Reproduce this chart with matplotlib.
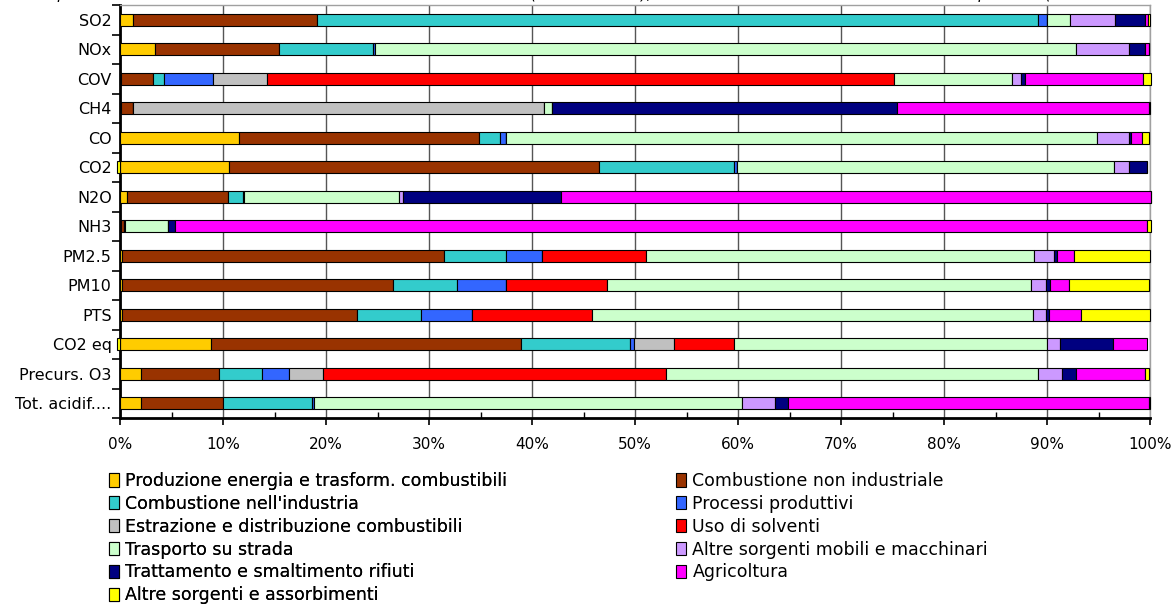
import matplotlib
matplotlib.use("Agg")
import matplotlib.pyplot as plt
import numpy as np
from matplotlib.patches import Patch
from matplotlib.ticker import MultipleLocator, FixedLocator, PercentFormatter

plt.rcParams["font.family"] = ["DejaVu Sans"]

pollutants = ["SO2", "NOx", "COV", "CH4", "CO", "CO2", "N2O", "NH3",
              "PM2.5", "PM10", "PTS", "CO2 eq", "Precurs. O3", "Tot. acidif...."]

# percentage share of each macrosector, one value per pollutant
produzione_energia = [1.3, 3.4, 0.1, 0.1, 11.6, 10.6, 0.7, 0.1, 0.2, 0.2, 0.2, 8.8, 2.0, 2.0]
comb_non_industriale = [17.8, 12.0, 3.1, 1.2, 23.3, 35.9, 9.8, 0.25, 31.3, 26.3, 22.8, 30.1, 7.6, 8.0]
comb_industria = [70.0, 9.2, 1.1, 0.0, 2.0, 13.1, 1.4, 0.0, 6.0, 6.2, 6.2, 10.6, 4.2, 8.6]
processi_produttivi = [0.9, 0.2, 4.7, 0.0, 0.6, 0.3, 0.15, 0.1, 3.5, 4.8, 5.0, 0.4, 2.6, 0.2]
estrazione_distrib = [0.0, 0.0, 5.3, 39.9, 0.0, 0.0, 0.0, 0.0, 0.0, 0.0, 0.0, 3.9, 3.3, 0.0]
uso_solventi = [0.0, 0.0, 60.8, 0.0, 0.0, 0.0, 0.0, 0.0, 10.1, 9.8, 11.6, 5.8, 33.3, 0.0]
trasporto_strada = [2.2, 68.0, 11.5, 0.7, 57.4, 36.6, 15.0, 4.2, 37.6, 41.1, 42.8, 30.4, 36.1, 41.6]
altre_mobili = [4.4, 5.2, 0.9, 0.05, 3.1, 1.5, 0.4, 0.0, 2.0, 1.5, 1.3, 1.3, 2.4, 3.2]
rifiuti = [2.9, 1.5, 0.4, 33.5, 0.2, 1.7, 15.4, 0.7, 0.3, 0.4, 0.3, 5.1, 1.3, 1.3]
agricoltura = [0.3, 0.4, 11.4, 24.5, 1.0, 0.0, 57.2, 94.4, 1.6, 1.8, 3.1, 3.3, 6.7, 35.0]
altre_sorgenti = [0.2, 0.0, 0.8, 0.05, 0.7, -0.3, 0.05, 0.3, 7.4, 7.8, 6.7, -0.3, 0.4, 0.06]

sector_names = [
    "Produzione energia e trasform. combustibili",
    "Combustione non industriale",
    "Combustione nell'industria",
    "Processi produttivi",
    "Estrazione e distribuzione combustibili",
    "Uso di solventi",
    "Trasporto su strada",
    "Altre sorgenti mobili e macchinari",
    "Trattamento e smaltimento rifiuti",
    "Agricoltura",
    "Altre sorgenti e assorbimenti",
]
sector_values = [produzione_energia, comb_non_industriale, comb_industria,
                 processi_produttivi, estrazione_distrib, uso_solventi,
                 trasporto_strada, altre_mobili, rifiuti, agricoltura,
                 altre_sorgenti]
sector_colors = ["#FFCC00", "#993300", "#33CCCC", "#3366FF", "#C0C0C0",
                 "#FF0000", "#CCFFCC", "#CC99FF", "#000080", "#FF00FF",
                 "#FFFF00"]

W, H = 1175, 604
fig = plt.figure(figsize=(W / 100, H / 100), dpi=100)
ax = fig.add_axes([120 / W, 1 - 418 / H, 1030 / W, 413 / H])

y = np.arange(len(pollutants))
pos_left = np.zeros(len(pollutants))
neg_left = np.zeros(len(pollutants))
for vals, color in zip(sector_values, sector_colors):
    v = np.array(vals, dtype=float)
    left = np.where(v >= 0, pos_left, neg_left)
    ax.barh(y, v, left=left, height=0.4, color=color, edgecolor="black",
            linewidth=0.8, zorder=3, clip_on=False)
    pos_left += np.where(v >= 0, v, 0)
    neg_left += np.where(v < 0, v, 0)

ax.set_xlim(0, 100)
ax.set_ylim(len(pollutants) - 0.5, -0.5)

ax.xaxis.set_major_locator(MultipleLocator(10))
ax.xaxis.set_minor_locator(MultipleLocator(5))
ax.xaxis.set_major_formatter(PercentFormatter(decimals=0))
ax.tick_params(axis="x", which="major", direction="out", length=5,
               width=1.2, labelsize=11, pad=9)
ax.tick_params(axis="x", which="minor", direction="in", length=4, width=1)

ax.set_yticks(y)
ax.set_yticklabels(pollutants)
ax.yaxis.set_minor_locator(FixedLocator(np.arange(-0.5, len(pollutants), 1.0)))
ax.tick_params(axis="y", which="major", length=0, labelsize=11.5, pad=6)
ax.tick_params(axis="y", which="minor", direction="out", length=6, width=1.2)

ax.grid(axis="x", which="major", color="#555555", linewidth=1.0, zorder=0)
ax.set_axisbelow(True)
for side in ("left", "bottom"):
    ax.spines[side].set_linewidth(2)
    ax.spines[side].set_color("black")
for side in ("top", "right"):
    ax.spines[side].set_linewidth(1)
    ax.spines[side].set_color("#A0A0A0")

fig.text(0.5, 1 + 1 / H,
         "Contributo percentuale dei macrosettori alle emissioni totali in Provincia "
         "(fonte INEMAR), relativamente alle emissioni di ciascun inquinante (anno di riferimento)",
         ha="center", va="baseline", style="italic", fontsize=11)

# two legend columns, filled row by row
handles = [Patch(facecolor=c, edgecolor="black", linewidth=0.8) for c in sector_colors]
left_idx = list(range(0, len(sector_names), 2))
right_idx = list(range(1, len(sector_names), 2))
common = dict(frameon=False, fontsize=12.5, handlelength=0.55, handleheight=0.8,
              handletextpad=0.4, labelspacing=0.28, borderpad=0, borderaxespad=0,
              loc="upper left")
leg1 = fig.legend([handles[i] for i in left_idx], [sector_names[i] for i in left_idx],
                  bbox_to_anchor=(109 / W, 1 - 472 / H), **common)
fig.add_artist(leg1)
fig.legend([handles[i] for i in right_idx], [sector_names[i] for i in right_idx],
           bbox_to_anchor=(676 / W, 1 - 472 / H), **common)

fig.savefig("out.png", dpi=100)
